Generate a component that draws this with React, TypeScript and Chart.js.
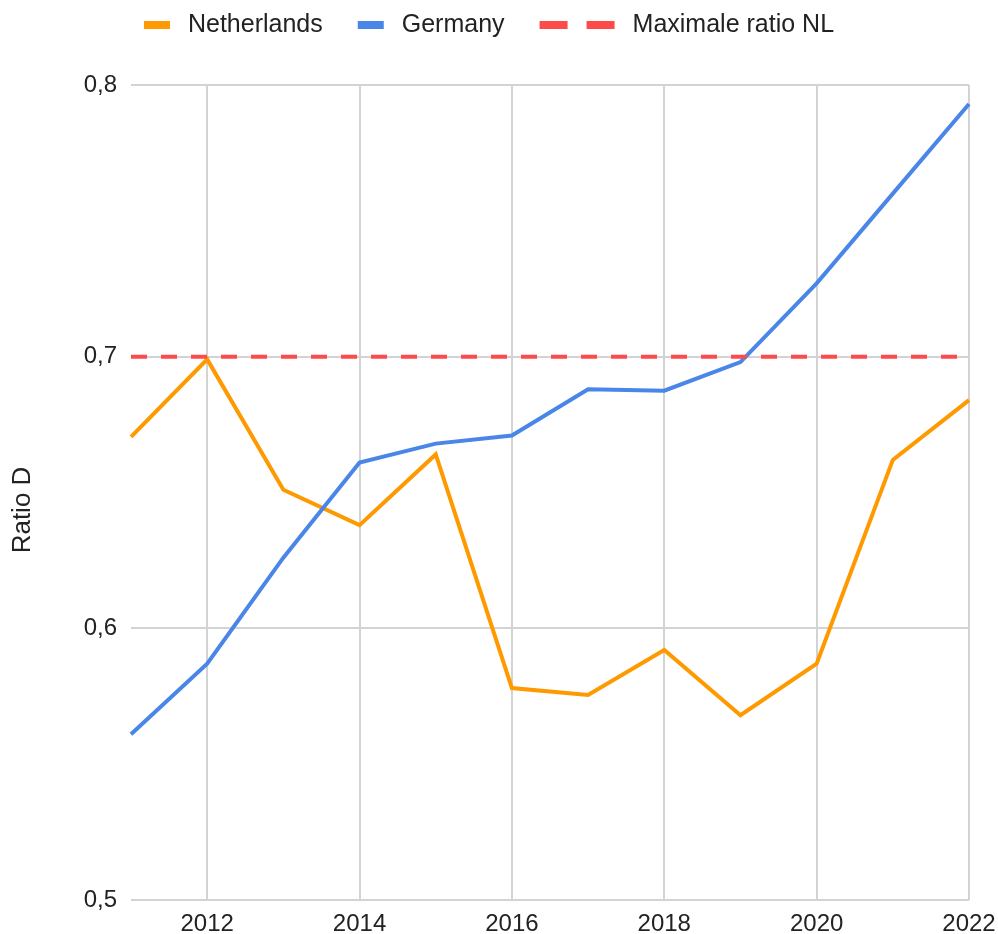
import React, { useEffect, useRef } from "react";
import { Chart, registerables } from "chart.js";

Chart.register(...registerables);

const years = ["2011", "2012", "2013", "2014", "2015", "2016", "2017", "2018", "2019", "2020", "2021", "2022"];
const netherlands = [0.6705, 0.699, 0.651, 0.638, 0.664, 0.578, 0.5755, 0.592, 0.568, 0.587, 0.662, 0.684];
const germany = [0.561, 0.587, 0.626, 0.661, 0.668, 0.671, 0.688, 0.6875, 0.698, 0.727, 0.76, 0.793];
const maxRatioNL = [0.7, 0.7, 0.7, 0.7, 0.7, 0.7, 0.7, 0.7, 0.7, 0.7, 0.7, 0.7];
const seriesNames = ["Netherlands", "Germany", "Maximale ratio NL"];
const yAxisTitle = "Ratio D";

const ORANGE = "#ff9900";
const BLUE = "#4a86e8";
const RED = "#ff4a4a";
const GRID = "#d3d3d3";
const FONT = "'Liberation Sans', Arial, sans-serif";

const customPlugin = {
  id: "customLegendTitle",
  afterDraw(chart: any) {
    const ctx = chart.ctx as CanvasRenderingContext2D;
    ctx.save();
    // Legend
    ctx.font = `25px ${FONT}`;
    const iconW = [26, 26, 75];
    const iconGap = 18;
    const itemGap = 35;
    const widths = seriesNames.map((n, i) => iconW[i] + iconGap + ctx.measureText(n).width);
    const total = widths.reduce((a, b) => a + b, 0) + itemGap * (seriesNames.length - 1);
    let x = 489 - total / 2;
    const colors = [ORANGE, BLUE, RED];
    seriesNames.forEach((n, i) => {
      ctx.fillStyle = colors[i];
      if (i === 2) {
        ctx.fillRect(x, 21, 28, 8);
        ctx.fillRect(x + 47, 21, 28, 8);
      } else {
        ctx.fillRect(x, 21, 26, 8);
      }
      ctx.fillStyle = "#222222";
      ctx.textBaseline = "alphabetic";
      ctx.textAlign = "left";
      ctx.fillText(n, x + iconW[i] + iconGap, 32);
      x += widths[i] + itemGap;
    });
    // Y axis title
    ctx.font = `26px ${FONT}`;
    ctx.translate(23, 510);
    ctx.rotate(-Math.PI / 2);
    ctx.textAlign = "center";
    ctx.textBaseline = "middle";
    ctx.fillStyle = "#222222";
    ctx.fillText(yAxisTitle, 0, 0);
    ctx.restore();
  },
};

export default function App() {
  const ref = useRef<HTMLCanvasElement | null>(null);
  useEffect(() => {
    document.body.style.margin = "0";
    const canvas = ref.current;
    if (!canvas) return;
    const chart = new Chart(canvas, {
      type: "line",
      data: {
        labels: years,
        datasets: [
          {
            label: seriesNames[0],
            data: netherlands,
            borderColor: ORANGE,
            backgroundColor: ORANGE,
            borderWidth: 4,
            pointRadius: 0,
            tension: 0,
            order: 2,
          },
          {
            label: seriesNames[1],
            data: germany,
            borderColor: BLUE,
            backgroundColor: BLUE,
            borderWidth: 4,
            pointRadius: 0,
            tension: 0,
            order: 1,
          },
          {
            label: seriesNames[2],
            data: maxRatioNL,
            borderColor: RED,
            backgroundColor: RED,
            borderWidth: 4,
            borderDash: [16, 14],
            borderCapStyle: "butt",
            pointRadius: 0,
            tension: 0,
            order: 0,
          },
        ],
      },
      options: {
        animation: false,
        responsive: false,
        maintainAspectRatio: false,
        layout: { padding: { top: 85, right: 29, left: 0, bottom: 0 } },
        plugins: {
          legend: { display: false },
          tooltip: { enabled: false },
        },
        scales: {
          x: {
            type: "category",
            offset: false,
            border: { display: false },
            grid: {
              drawTicks: false,
              color: (c: any) => (c.index % 2 === 1 ? GRID : "rgba(0,0,0,0)"),
              lineWidth: 2,
            },
            ticks: {
              autoSkip: false,
              maxRotation: 0,
              padding: 10,
              color: "#222222",
              font: { family: FONT, size: 24 },
              callback: function (this: any, _v: any, i: number) {
                return i % 2 === 1 ? years[i] : "";
              },
            },
            afterFit: (s: any) => {
              s.height = 34;
              s.paddingRight = 0;
              s.paddingLeft = 0;
            },
          },
          y: {
            min: 0.5,
            max: 0.8,
            border: { display: false },
            grid: { drawTicks: false, color: GRID, lineWidth: 2 },
            ticks: {
              stepSize: 0.1,
              padding: 14,
              color: "#222222",
              font: { family: FONT, size: 24 },
              callback: (v: any) => Number(v).toFixed(1).replace(".", ","),
            },
            afterFit: (s: any) => {
              s.width = 131;
            },
          },
        },
      },
      plugins: [customPlugin],
    });
    return () => chart.destroy();
  }, []);
  return (
    <div style={{ width: 998, height: 934 }}>
      <canvas ref={ref} width={998} height={934} style={{ display: "block" }} />
    </div>
  );
}
